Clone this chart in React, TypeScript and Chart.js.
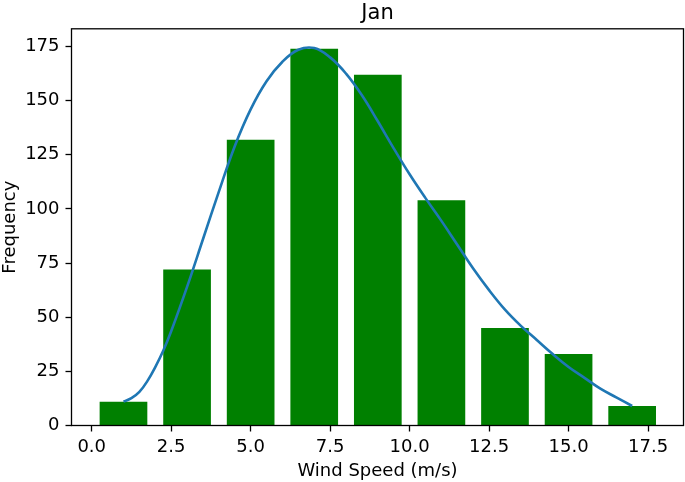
import React, { useEffect, useRef } from 'react';
import { Chart, registerables } from 'chart.js';

Chart.register(...registerables);

// Histogram bins (bin centres, m/s) and counts
const binCenters = [1, 3, 5, 7, 9, 11, 13, 15, 17];
const frequencies = [11, 72, 132, 174, 162, 104, 45, 33, 9];

// Fitted curve
const fitX = [1.0, 1.25, 1.5, 1.75, 2.0, 2.25, 2.5, 3.0, 3.5, 4.0, 4.5, 5.0, 5.5, 6.0, 6.5, 7.0, 7.5, 8.0, 8.5, 9.0, 9.5, 10.0, 10.5, 11.0, 11.5, 12.0, 12.5, 13.0, 13.5, 14.0, 14.5, 15.0, 15.5, 16.0, 16.5, 17.0];
const fitY = [11, 12.6, 15.5, 20.5, 27, 34.5, 43.5, 64, 86, 108, 129, 146, 159, 168, 173.5, 174.3, 170, 162.5, 152.5, 140.5, 128, 116, 105, 94.5, 83.5, 72.5, 62.5, 53.5, 46, 39.5, 33, 27, 22, 17, 13, 9];

// Tick labels
const xTicks = [0, 2.5, 5, 7.5, 10, 12.5, 15, 17.5];
const yTicks = [0, 25, 50, 75, 100, 125, 150, 175];

const titleText = 'Jan';
const xLabel = 'Wind Speed (m/s)';
const yLabel = 'Frequency';

const framePlugin = {
  id: 'frame',
  afterDraw(chart: any) {
    const { ctx, chartArea: a } = chart;
    ctx.save();
    ctx.strokeStyle = '#000';
    ctx.lineWidth = 1.3;
    ctx.strokeRect(a.left, a.top, a.right - a.left, a.bottom - a.top);
    // title centred over the plot area
    ctx.fillStyle = '#000';
    ctx.font = '21px "DejaVu Sans"';
    ctx.textAlign = 'center';
    ctx.textBaseline = 'alphabetic';
    ctx.fillText(titleText, (a.left + a.right) / 2, a.top - 9.5);
    ctx.restore();
  },
};

export default function App() {
  const ref = useRef<HTMLCanvasElement | null>(null);

  useEffect(() => {
    document.body.style.margin = '0';
    const canvas = ref.current;
    if (!canvas) return;
    const chart = new Chart(canvas, {
      type: 'bar',
      data: {
        datasets: [
          {
            type: 'line',
            data: fitX.map((x, i) => ({ x, y: fitY[i] })),
            borderColor: '#1f77b4',
            borderWidth: 2.6,
            pointRadius: 0,
            tension: 0.4,
            fill: false,
            order: 0,
          } as any,
          {
            type: 'bar',
            data: binCenters.map((x, i) => ({ x, y: frequencies[i] })),
            backgroundColor: '#008000',
            borderWidth: 0,
            barPercentage: 0.75,
            categoryPercentage: 1,
            order: 1,
          } as any,
        ],
      },
      plugins: [framePlugin],
      options: {
        responsive: false,
        animation: false,
        devicePixelRatio: 1,
        layout: { padding: { left: 0, right: 1.5, top: 28.8, bottom: 0 } },
        plugins: {
          legend: { display: false },
          tooltip: { enabled: false },
          title: { display: false },
        },
        scales: {
          x: {
            type: 'linear',
            offset: false,
            min: -0.635,
            max: 18.615,
            afterBuildTicks: (s: any) => {
              s.ticks = xTicks.map((v) => ({ value: v }));
            },
            afterFit: (s: any) => {
              s.height = 56.5;
            },
            ticks: {
              color: '#000',
              padding: 5,
              font: { family: 'DejaVu Sans', size: 18 },
              maxRotation: 0,
              autoSkip: false,
              callback: (v: any) => Number(v).toFixed(1),
            },
            grid: {
              display: true,
              offset: false,
              drawOnChartArea: false,
              drawTicks: true,
              tickLength: 6,
              tickColor: '#000',
              tickWidth: 1.3,
            },
            border: { display: false },
            title: {
              display: true,
              text: xLabel,
              color: '#000',
              font: { family: 'DejaVu Sans', size: 18 },
              padding: { top: 0, bottom: 0 },
            },
          },
          y: {
            type: 'linear',
            min: 0,
            max: 183.2,
            afterBuildTicks: (s: any) => {
              s.ticks = yTicks.map((v) => ({ value: v }));
            },
            afterFit: (s: any) => {
              s.width = 71.5;
            },
            ticks: {
              color: '#000',
              padding: 6,
              font: { family: 'DejaVu Sans', size: 18 },
              autoSkip: false,
              callback: (v: any) => String(v),
            },
            grid: {
              display: true,
              drawOnChartArea: false,
              drawTicks: true,
              tickLength: 6,
              tickColor: '#000',
              tickWidth: 1.3,
            },
            border: { display: false },
            title: {
              display: true,
              text: yLabel,
              color: '#000',
              font: { family: 'DejaVu Sans', size: 18 },
              padding: { top: 0, bottom: 0 },
            },
          },
        },
      } as any,
    });
    return () => chart.destroy();
  }, []);

  return (
    <div style={{ width: 685, height: 482 }}>
      <canvas ref={ref} width={685} height={482} style={{ display: 'block' }} />
    </div>
  );
}
